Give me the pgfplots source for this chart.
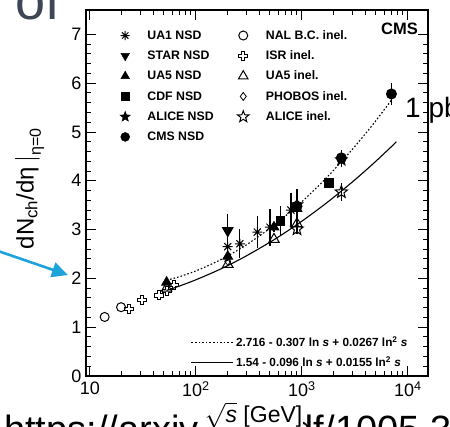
\documentclass[border=0pt]{standalone}
\usepackage{fontspec}
\setmainfont{Liberation Sans}
\usepackage{pgfplots}
\pgfplotsset{compat=1.18}
\usetikzlibrary{arrows.meta}
\definecolor{slidegray}{HTML}{3D4654}
\definecolor{arrowblue}{HTML}{1BA3DA}
\newcommand{\starpath}{%
 \pgfpathmoveto{\pgfpointpolar{90}{\pgfplotmarksize}}%
 \pgfpathlineto{\pgfpointpolar{126}{0.42\pgfplotmarksize}}%
 \pgfpathlineto{\pgfpointpolar{162}{\pgfplotmarksize}}%
 \pgfpathlineto{\pgfpointpolar{198}{0.42\pgfplotmarksize}}%
 \pgfpathlineto{\pgfpointpolar{234}{\pgfplotmarksize}}%
 \pgfpathlineto{\pgfpointpolar{270}{0.42\pgfplotmarksize}}%
 \pgfpathlineto{\pgfpointpolar{306}{\pgfplotmarksize}}%
 \pgfpathlineto{\pgfpointpolar{342}{0.42\pgfplotmarksize}}%
 \pgfpathlineto{\pgfpointpolar{18}{\pgfplotmarksize}}%
 \pgfpathlineto{\pgfpointpolar{54}{0.42\pgfplotmarksize}}%
 \pgfpathclose}
\newcommand{\crosspath}{%
 \pgfpathmoveto{\pgfqpoint{0.35\pgfplotmarksize}{\pgfplotmarksize}}%
 \pgfpathlineto{\pgfqpoint{0.35\pgfplotmarksize}{0.35\pgfplotmarksize}}%
 \pgfpathlineto{\pgfqpoint{\pgfplotmarksize}{0.35\pgfplotmarksize}}%
 \pgfpathlineto{\pgfqpoint{\pgfplotmarksize}{-0.35\pgfplotmarksize}}%
 \pgfpathlineto{\pgfqpoint{0.35\pgfplotmarksize}{-0.35\pgfplotmarksize}}%
 \pgfpathlineto{\pgfqpoint{0.35\pgfplotmarksize}{-\pgfplotmarksize}}%
 \pgfpathlineto{\pgfqpoint{-0.35\pgfplotmarksize}{-\pgfplotmarksize}}%
 \pgfpathlineto{\pgfqpoint{-0.35\pgfplotmarksize}{-0.35\pgfplotmarksize}}%
 \pgfpathlineto{\pgfqpoint{-\pgfplotmarksize}{-0.35\pgfplotmarksize}}%
 \pgfpathlineto{\pgfqpoint{-\pgfplotmarksize}{0.35\pgfplotmarksize}}%
 \pgfpathlineto{\pgfqpoint{-0.35\pgfplotmarksize}{0.35\pgfplotmarksize}}%
 \pgfpathlineto{\pgfqpoint{-0.35\pgfplotmarksize}{\pgfplotmarksize}}%
 \pgfpathclose}
\pgfdeclareplotmark{fstar}{\starpath\pgfusepathqfillstroke}
\pgfdeclareplotmark{ostar}{\starpath\pgfusepathqstroke}
\pgfdeclareplotmark{ocross}{\crosspath\pgfusepathqstroke}
\pgfdeclareplotmark{ast8}{%
 \pgfpathmoveto{\pgfqpoint{0pt}{\pgfplotmarksize}}\pgfpathlineto{\pgfqpoint{0pt}{-\pgfplotmarksize}}%
 \pgfpathmoveto{\pgfqpoint{\pgfplotmarksize}{0pt}}\pgfpathlineto{\pgfqpoint{-\pgfplotmarksize}{0pt}}%
 \pgfpathmoveto{\pgfqpoint{0.707\pgfplotmarksize}{0.707\pgfplotmarksize}}\pgfpathlineto{\pgfqpoint{-0.707\pgfplotmarksize}{-0.707\pgfplotmarksize}}%
 \pgfpathmoveto{\pgfqpoint{-0.707\pgfplotmarksize}{0.707\pgfplotmarksize}}\pgfpathlineto{\pgfqpoint{0.707\pgfplotmarksize}{-0.707\pgfplotmarksize}}%
 \pgfusepathqstroke}
\begin{document}
\begin{tikzpicture}
\useasboundingbox (0pt,0pt) rectangle (450pt,426pt);
% slide text behind the chart
\node[anchor=base west, inner sep=0pt, font=\fontsize{38}{40}\selectfont, text=black] at (4pt,-16pt) {https://arxiv.org/pdf/1005.3299};
\begin{axis}[
  at={(86pt,50pt)}, anchor=south west,
  width=342pt, height=366pt, scale only axis,
  xmode=log, xmin=9.2, xmax=15500, ymin=0, ymax=7.5,
  axis line style={line width=1.1pt, black},
  tick style={line width=1pt, black},
  major tick length=10pt, minor tick length=5pt,
  tick align=inside,
  xtick={10,100,1000,10000},
  xticklabels={10,10\textsuperscript{2},10\textsuperscript{3},10\textsuperscript{4}},
  ytick={0,1,2,3,4,5,6,7},
  minor y tick num=4,
  /pgf/number format/assume math mode=true,
  tick label style={font=\fontsize{18}{20}\selectfont},
  xticklabel style={yshift=-2pt},
  yticklabel style={xshift=-1pt},
  xlabel={$\sqrt{\mbox{\itshape s}}$ [GeV]},
  xlabel style={at={(axis description cs:0.49,0)}, anchor=center, yshift=-39pt, fill=white, inner sep=1pt, font=\fontsize{23}{24}\selectfont},
  ylabel={$\left.\mbox{dN\textsubscript{ch}/dη}\,\right|_{\mbox{\fontsize{16}{17}\selectfont η=0}}$},
  ylabel style={at={(axis description cs:-0.165,0.51)}, anchor=center, font=\fontsize{24}{25}\selectfont},
  legend columns=6, transpose legend,
  legend style={at={(axis description cs:0.09,0.956)}, anchor=north west, draw=none, fill=none,
    font=\fontsize{12.3}{13}\bfseries\selectfont, row sep=5.9pt,
    /tikz/every odd column/.append style={column sep=15pt},
    /tikz/every even column/.append style={column sep=19pt}},
  legend cell align=left,
  error bars/y dir=both, error bars/y explicit,
  error bars/error mark=none,
  error bars/error bar style={line width=1.2pt, black},
]
% fits
\addplot[black, line width=1.1pt, dash pattern=on 1.6pt off 2pt, smooth, forget plot] coordinates {
(53,1.962) (70,2.035) (100,2.153) (150,2.321) (200,2.461) (300,2.688) (500,3.025) (700,3.277)
(1000,3.571) (1500,3.938) (2000,4.219) (3000,4.646) (4000,4.970) (5000,5.234) (7000,5.652)};
\addplot[black, line width=1.1pt, smooth, forget plot] coordinates {
(53,1.755) (70,1.843) (100,1.971) (150,2.135) (200,2.263) (300,2.462) (500,2.741) (700,2.943)
(1000,3.172) (1500,3.452) (2000,3.663) (3000,3.977) (4000,4.213) (5000,4.402) (7000,4.700) (7800,4.799)};
% inelastic
\addplot[black, only marks, mark=o, mark size=4.5pt, line width=1pt, forget plot] coordinates {(13.8,1.21) (19.7,1.41)};
\addplot[black, only marks, mark=ocross, mark size=4.5pt, line width=1pt, forget plot] coordinates {(23.6,1.38) (30.8,1.56) (45.2,1.65) (53,1.74) (62.8,1.87)};
\addplot[black, only marks, mark=triangle, mark size=6pt, line width=1pt, forget plot] coordinates {(53,1.80) (200,2.29) (546,2.80) (900,3.12)};
\addplot[black, only marks, mark=diamond, mark size=4pt, line width=0.8pt, forget plot] coordinates {(200,2.35)};
\addplot[black, only marks, mark=ostar, mark size=6.5pt, line width=1pt, forget plot] coordinates {(900,3.01) +- (0,0.10) (2360,3.77) +- (0,0.18)};
% NSD
\addplot[black, only marks, mark=ast8, mark size=5pt, line width=1pt, forget plot] coordinates {
(200,2.65) +- (0,0.30) (260,2.71) +- (0,0.30) (380,2.95) +- (0,0.32) (500,3.05) +- (0,0.38) (790,3.40) +- (0,0.35) (900,3.45) +- (0,0.38)};
\addplot[black, only marks, mark=triangle*, mark options={rotate=180}, mark size=6pt, line width=1pt, forget plot] coordinates {(200,2.98) +- (0,0.34)};
\addplot[black, only marks, mark=triangle*, mark size=5.5pt, line width=1pt, forget plot] coordinates {(53,1.92) +- (0,0.05) (200,2.45) +- (0,0.08) (546,3.05) +- (0,0.10) (900,3.43) +- (0,0.10)};
\addplot[black, only marks, mark=square*, mark size=4.3pt, line width=1pt, forget plot] coordinates {(630,3.18) +- (0,0.30) (1800,3.95) +- (0,0.05)};
\addplot[black, only marks, mark=fstar, mark size=6pt, line width=1pt, forget plot] coordinates {(900,3.51) +- (0,0.15) (2360,4.43) +- (0,0.15)};
\addplot[black, only marks, mark=*, mark size=5pt, line width=1pt, forget plot] coordinates {(900,3.48) +- (0,0.13) (2360,4.47) +- (0,0.16) (7000,5.78) +- (0,0.23)};
% legend
\addlegendimage{black, only marks, mark=ast8, mark size=4.5pt, line width=1pt}
\addlegendentry{UA1 NSD}
\addlegendimage{black, only marks, mark=triangle*, mark options={rotate=180}, mark size=5pt}
\addlegendentry{STAR NSD}
\addlegendimage{black, only marks, mark=triangle*, mark size=5pt}
\addlegendentry{UA5 NSD}
\addlegendimage{black, only marks, mark=square*, mark size=4pt}
\addlegendentry{CDF NSD}
\addlegendimage{black, only marks, mark=fstar, mark size=5.5pt}
\addlegendentry{ALICE NSD}
\addlegendimage{black, only marks, mark=*, mark size=4.5pt}
\addlegendentry{CMS NSD}
\addlegendimage{black, only marks, mark=o, mark size=4.5pt, line width=1pt}
\addlegendentry{NAL B.C. inel.}
\addlegendimage{black, only marks, mark=ocross, mark size=4.5pt, line width=1pt}
\addlegendentry{ISR inel.}
\addlegendimage{black, only marks, mark=triangle, mark size=5.5pt, line width=1pt}
\addlegendentry{UA5 inel.}
\addlegendimage{black, only marks, mark=diamond, mark size=4pt, line width=0.8pt}
\addlegendentry{PHOBOS inel.}
\addlegendimage{black, only marks, mark=ostar, mark size=6pt, line width=1pt}
\addlegendentry{ALICE inel.}
\addlegendimage{empty legend}
\addlegendentry{}
\node[anchor=north east, inner sep=0pt, font=\fontsize{16.5}{17}\bfseries\selectfont] at (axis description cs:0.971,0.966) {CMS};
\end{axis}
\begin{axis}[
  at={(86pt,50pt)}, anchor=south west,
  width=342pt, height=366pt, scale only axis, hide axis,
  xmin=0, xmax=1, ymin=0, ymax=1,
  legend style={at={(axis description cs:0.955,0.01)}, anchor=south east, draw=none, fill=none,
    font=\fontsize{11.8}{12}\bfseries\selectfont, row sep=4.5pt},
  legend cell align=left,
  legend image code/.code={\draw[#1] (0pt,0pt) -- (42pt,0pt);},
]
\addlegendimage{black, line width=1.1pt, dash pattern=on 1.6pt off 2pt}
\addlegendentry{2.716 - 0.307 ln \textit{s} + 0.0267 ln\textsuperscript{2} \textit{s}}
\addlegendimage{black, line width=1.1pt}
\addlegendentry{1.54 - 0.096 ln \textit{s} + 0.0155 ln\textsuperscript{2} \textit{s}}
\end{axis}
% slide overlays on top
\node[anchor=base west, inner sep=0pt, font=\fontsize{54}{54}\selectfont, text=slidegray] at (15pt,406pt) {of};
\node[anchor=base west, inner sep=0pt, font=\fontsize{28}{28}\selectfont, text=black] at (405pt,308pt) {1 pb};
\draw[arrowblue, line width=2.6pt, -{Triangle[length=16pt,width=15pt]}] (-2pt,175pt) -- (68pt,151pt);
\end{tikzpicture}
\end{document}
